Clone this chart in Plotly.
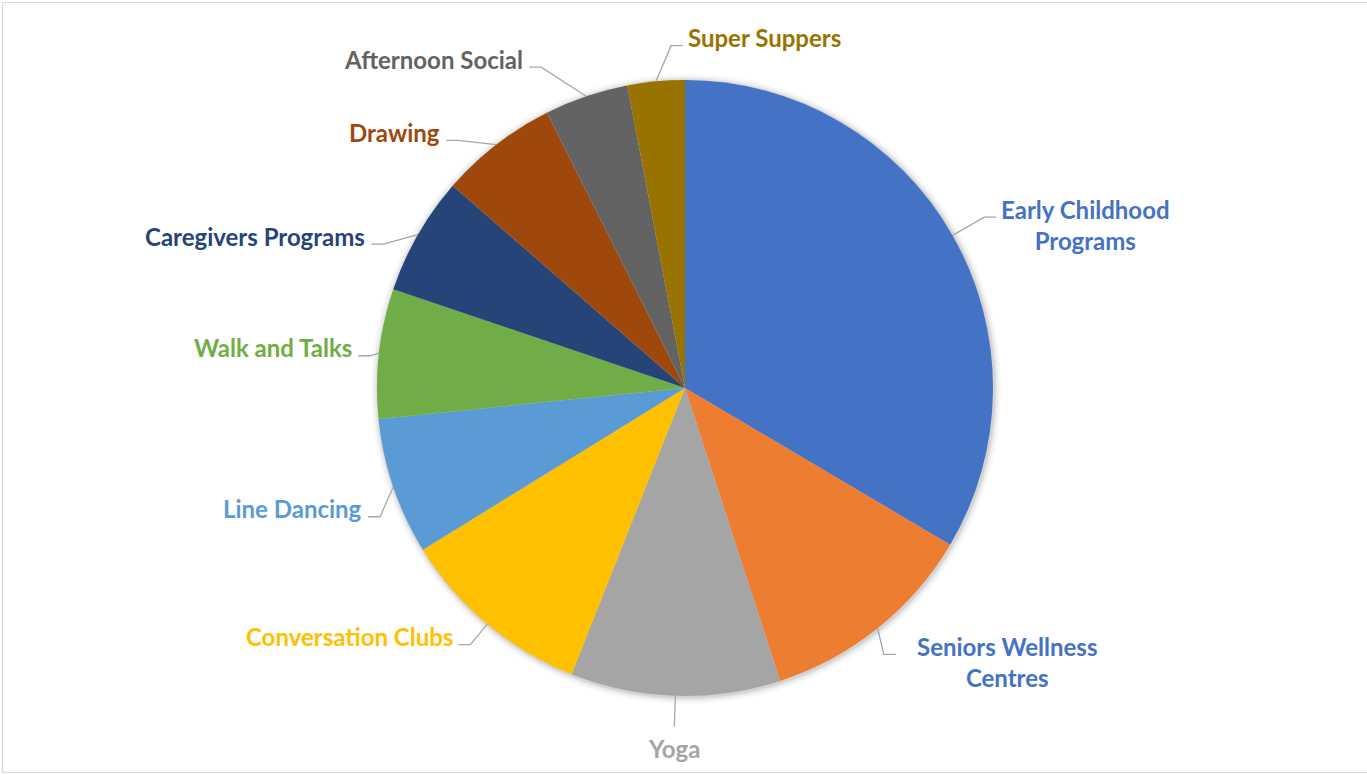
import math
import plotly.graph_objects as go

# ---------------- data ----------------
categories = ["Early Childhood Programs", "Seniors Wellness Centres", "Yoga",
              "Conversation Clubs", "Line Dancing", "Walk and Talks",
              "Caregivers Programs", "Drawing", "Afternoon Social", "Super Suppers"]
values = [33.5, 11.5, 11.0, 10.2, 7.2, 6.8, 6.2, 6.2, 4.4, 3.0]

# ---------------- style ----------------
colors = ["#4472C4", "#ED7D31", "#A5A5A5", "#FFC000", "#5B9BD5", "#70AD47",
          "#264478", "#9E480E", "#636363", "#997300"]
label_colors = ["#4472C4", "#4472C4", "#A5A5A5", "#FFC000", "#5B9BD5", "#70AD47",
                "#264478", "#9E480E", "#636363", "#997300"]

W, H = 1367, 775
CX, CY, R = 685, 388, 308          # pie centre / radius in pixels
FS = 24                             # label font size
LINE_COLOR = "#A6A6A6"

# label placement tweaks (pixels), gap to text and side of the leader line
label_nudge = [(5, -3), (-13, 2), (0, 0), (3, -3), (16, 20), (22, 6),
               (-8, 25), (-19, 20), (-35, 0), (18, -5)]
label_gap = [4, 20, 6, 4, 5, 5, 5, 5, 5, 4]
label_side = ["right", "right", "below", "left", "left", "left",
              "left", "left", "left", "right"]


def px(x):
    return x / W


def py(y):
    return 1 - y / H


def wrap(label, maxlen=20):
    if len(label) > maxlen and " " in label:
        i = label.rfind(" ")
        return [label[:i], label[i + 1:]]
    return [label]


fig = go.Figure(go.Pie(
    labels=categories, values=values, sort=False, direction="clockwise",
    rotation=0, textinfo="none", hoverinfo="label+percent",
    marker=dict(colors=colors, line=dict(width=0)), showlegend=False,
    domain=dict(x=[px(CX - R), px(CX + R)], y=[py(CY + R), py(CY - R)]),
))

shapes = []
# soft shadow around pie
for k, a in [(7, 0.025), (5, 0.035), (3, 0.05), (1.5, 0.07)]:
    shapes.append(dict(type="circle", xref="paper", yref="paper", layer="below",
                       x0=px(CX - R - k + 1), x1=px(CX + R + k + 1),
                       y0=py(CY + R + k + 1), y1=py(CY - R - k + 1),
                       fillcolor=f"rgba(0,0,0,{a})", line=dict(width=0)))
# chart border
shapes.append(dict(type="rect", xref="paper", yref="paper",
                   x0=px(2.5), x1=px(W + 5), y0=py(772.5), y1=py(2.5),
                   line=dict(color="#D9D9D9", width=1.2), fillcolor="rgba(0,0,0,0)"))

annotations = []
total = sum(values)
cum = 0.0
for i, (lab, v) in enumerate(zip(categories, values)):
    mid = (cum + v / 2) / total * 2 * math.pi
    cum += v
    s, c = math.sin(mid), math.cos(mid)
    ex, ey = CX + R * s, CY - R * c
    dx, dy = label_nudge[i]
    bx, by = CX + 1.1 * R * s + dx, CY - 1.1 * R * c + dy
    lines = wrap(lab)
    n = len(lines)
    side = label_side[i]
    if side == "below":
        path = f"M {px(ex)},{py(ey)} L {px(bx)},{py(by)}"
        ax_, ay_, xa, ya = bx, by + label_gap[i], "center", "top"
    else:
        sgn = 1 if side == "right" else -1
        qx = bx + sgn * 12
        path = f"M {px(ex)},{py(ey)} L {px(bx)},{py(by)} L {px(qx)},{py(by)}"
        ax_ = qx + sgn * label_gap[i]
        ay_ = by - 8 + (n - 1) * 1.3 * FS / 2
        xa, ya = ("left" if side == "right" else "right"), "middle"
    shapes.append(dict(type="path", xref="paper", yref="paper", path=path,
                       line=dict(color=LINE_COLOR, width=1.3)))
    annotations.append(dict(
        x=px(ax_), y=py(ay_), xref="paper", yref="paper", xanchor=xa, yanchor=ya,
        text="<br>".join(lines), showarrow=False, align="center", borderpad=0,
        font=dict(family="Lato, Carlito, Calibri, sans-serif", size=FS,
                  color=label_colors[i], weight="bold"),
    ))

fig.update_layout(
    width=W, height=H, margin=dict(l=0, r=0, t=0, b=0),
    paper_bgcolor="white", plot_bgcolor="white",
    shapes=shapes, annotations=annotations,
)

fig.write_html("out.html", config={"displayModeBar": False},
               post_script="document.body.style.margin='0';document.body.style.overflow='hidden';")
